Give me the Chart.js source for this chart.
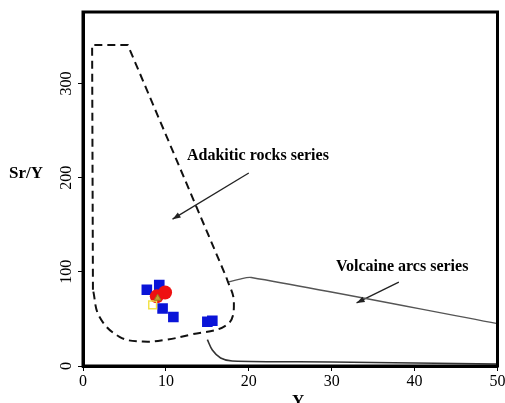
<!DOCTYPE html>
<html>
<head>
<meta charset="utf-8">
<script src="https://cdn.jsdelivr.net/npm/chart.js@4/dist/chart.umd.min.js"></script>
<style>
  html, body { margin: 0; padding: 0; background: #fff; }
</style>
</head>
<body>
<canvas id="myChart" width="505" height="403"></canvas>
<script>
//sample points (Y, Sr/Y)
const blueX = [7.7, 9.2, 9.6, 10.9, 15.0, 15.6]
const blueY = [81, 86, 61, 52, 47, 48]
const redX = [9.9, 8.9]
const redY = [78, 74]
const yellowX = [8.4]
const yellowY = [65]
const triX = [9.0]
const triY = [72]

//adakite field outline
const fieldStraightX = [1.2, 1.1, 5.4, 17.3]
const fieldStraightY = [81, 341, 341, 94]
const fieldCurveX = [17.3, 18.2, 17.4, 12.8, 10.1, 7.2, 4.4, 2.0, 1.2]
const fieldCurveY = [94, 68, 44, 33, 28, 26, 31, 52, 81]

//volcanic arc lines
const arcUpperX = [17.4, 18.8, 20.3, 50]
const arcUpperY = [89, 92, 94, 45]
const arcLowerX = [15.0, 15.6, 16.6, 18.0, 30, 50]
const arcLowerY = [28, 17, 8.5, 5.3, 4.3, 2.1]

//arrows [fromX, fromY, toX, toY]
const adakiteArrow = [20.0, 205, 10.8, 156]
const arcArrow = [38.1, 89, 33.0, 67]

//labels
const fieldLabels = ['Adakitic rocks series', 'Volcaine arcs series']
const fieldLabelX = [21.1, 38.5]
const fieldLabelY = [223, 105]

//axes
const xTicks = [0, 10, 20, 30, 40, 50]
const yTicks = [0, 100, 200, 300]
const xTitle = 'Y'
const yTitle = 'Sr/Y'

const zip = (xs, ys) => xs.map((v, i) => ({ x: v, y: ys[i] }))
const serif = '"Liberation Serif", "DejaVu Serif", serif'

const overlay = {
    id: 'overlay',
    afterDraw(chart) {
        const { ctx, chartArea: a, scales: { x, y } } = chart
        ctx.save()

        //frame round the plot
        ctx.strokeStyle = '#000'
        ctx.lineWidth = 3
        ctx.strokeRect(a.left, a.top, a.right - a.left, a.bottom - a.top)

        //y tick labels, turned like the original
        ctx.fillStyle = '#000'
        ctx.font = '16px ' + serif
        ctx.textAlign = 'center'
        ctx.textBaseline = 'middle'
        y.ticks.forEach(t => {
            ctx.save()
            ctx.translate(a.left - 16, y.getPixelForValue(t.value))
            ctx.rotate(-Math.PI / 2)
            ctx.fillText(String(t.value), 0, 0)
            ctx.restore()
        })

        //axis titles
        ctx.font = 'bold 17px ' + serif
        ctx.fillText(yTitle, 26, 174)
        ctx.fillText(xTitle, (a.left + a.right) / 2 + 8, 402)

        //field labels
        ctx.font = 'bold 16px ' + serif
        fieldLabels.forEach((txt, i) => {
            ctx.fillText(txt, x.getPixelForValue(fieldLabelX[i]), y.getPixelForValue(fieldLabelY[i]))
        })

        //arrow heads
        ctx.fillStyle = '#222';
        [adakiteArrow, arcArrow].forEach(ar => {
            const x0 = x.getPixelForValue(ar[0]), y0 = y.getPixelForValue(ar[1])
            const x1 = x.getPixelForValue(ar[2]), y1 = y.getPixelForValue(ar[3])
            const ang = Math.atan2(y1 - y0, x1 - x0)
            ctx.save()
            ctx.translate(x1, y1)
            ctx.rotate(ang)
            ctx.beginPath()
            ctx.moveTo(0, 0)
            ctx.lineTo(-8, -3)
            ctx.lineTo(-8, 3)
            ctx.closePath()
            ctx.fill()
            ctx.restore()
        })
        ctx.restore()
    }
}

const lineSet = (data, color, width, extra) => Object.assign({
    type: 'scatter',
    data: data,
    showLine: true,
    borderColor: color,
    borderWidth: width,
    pointRadius: 0,
    fill: false,
    tension: 0
}, extra || {})

const ctx = document.getElementById('myChart').getContext('2d')

var chart = new Chart(ctx, {
    type: 'scatter',
    data: {
        datasets: [
            {
                data: zip(triX, triY),
                pointStyle: 'triangle',
                pointRadius: 4,
                backgroundColor: '#c8a030',
                borderColor: '#9a7a20',
                borderWidth: 1
            },
            {
                data: zip(yellowX, yellowY),
                pointStyle: 'rect',
                pointRadius: 5.5,
                backgroundColor: 'rgba(0,0,0,0)',
                borderColor: '#f2e24a',
                borderWidth: 1.5
            },
            {
                data: zip(redX, redY),
                pointStyle: 'circle',
                pointRadius: 7,
                backgroundColor: '#ee1111',
                borderColor: '#ee1111',
                borderWidth: 0
            },
            {
                data: zip(blueX, blueY),
                pointStyle: 'rect',
                pointRadius: 7.5,
                backgroundColor: '#0a14d8',
                borderColor: '#0a14d8',
                borderWidth: 0
            },
            lineSet(zip(fieldStraightX, fieldStraightY), '#111', 2, { borderDash: [8, 5] }),
            lineSet(zip(fieldCurveX, fieldCurveY), '#111', 2, { borderDash: [8, 5], tension: 0.4 }),
            lineSet(zip(arcUpperX, arcUpperY), '#555', 1.3, { tension: 0.3 }),
            lineSet(zip(arcLowerX, arcLowerY), '#333', 1.6, { tension: 0.3 }),
            lineSet([{ x: adakiteArrow[0], y: adakiteArrow[1] }, { x: adakiteArrow[2], y: adakiteArrow[3] }], '#222', 1.3),
            lineSet([{ x: arcArrow[0], y: arcArrow[1] }, { x: arcArrow[2], y: arcArrow[3] }], '#222', 1.3)
        ]
    },
    options: {
        responsive: false,
        animation: false,
        layout: { padding: { top: 12, right: 5, left: 0, bottom: 0 } },
        plugins: {
            legend: { display: false },
            tooltip: { enabled: false }
        },
        scales: {
            x: {
                type: 'linear',
                min: 0,
                max: 50,
                afterBuildTicks: s => { s.ticks = xTicks.map(v => ({ value: v })) },
                afterFit: s => { s.height = 37; s.paddingLeft = 0; s.paddingRight = 0 },
                ticks: {
                    color: '#000',
                    font: { family: serif, size: 16 },
                    padding: 1,
                    maxRotation: 0
                },
                grid: { drawOnChartArea: false, tickLength: 5, color: '#000', lineWidth: 1 },
                border: { color: '#000', width: 3 }
            },
            y: {
                type: 'linear',
                min: 0,
                max: 376,
                afterBuildTicks: s => { s.ticks = yTicks.map(v => ({ value: v })) },
                afterFit: s => { s.width = 83 },
                ticks: { display: false },
                grid: { drawOnChartArea: false, tickLength: 5, color: '#000', lineWidth: 1 },
                border: { color: '#000', width: 3 }
            }
        }
    },
    plugins: [overlay]
})
</script>
</body>
</html>
